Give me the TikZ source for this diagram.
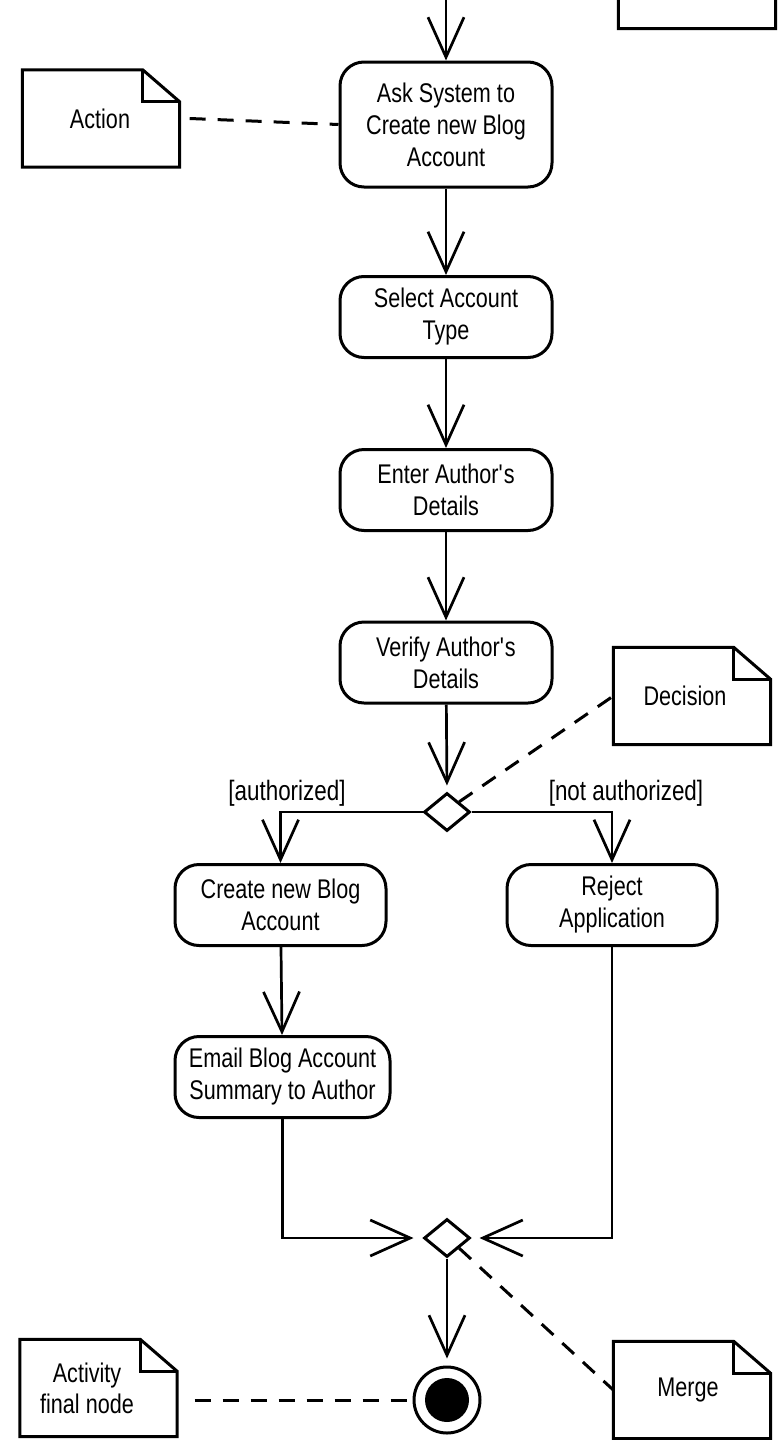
\documentclass[tikz,border=0pt]{standalone}
\usepackage{fontspec}
\setmainfont{Liberation Sans}[FakeStretch=0.8]
\usetikzlibrary{arrows.meta,shapes.geometric,calc}
% #1 node name, #2 horizontal offset of the outline from the text centre
\newcommand{\drawnote}[2]{%
  \draw[notebox] ([xshift=#2]#1.north west) -- ([xshift=#2-37pt]#1.north east) -- ([xshift=#2,yshift=-32pt]#1.north east) -- ([xshift=#2]#1.south east) -- ([xshift=#2]#1.south west) -- cycle;
  \draw[notebox] ([xshift=#2-37pt]#1.north east) |- ([xshift=#2,yshift=-32pt]#1.north east);}
\begin{document}
\begin{tikzpicture}[x=1pt,y=-1pt,
  action/.style={draw, line width=3pt, rounded corners=24pt, minimum height=81pt,
    align=center, inner sep=1pt, font=\fontsize{27}{32}\selectfont},
  note/.style={minimum width=157pt, minimum height=97pt, inner sep=0pt, align=center,
    font=\fontsize{27}{31}\selectfont},
  notebox/.style={line width=3pt, line join=miter},
  diam/.style={draw, diamond, line width=3pt, minimum width=46pt, minimum height=38pt, inner sep=0pt},
  flow/.style={line width=2.7pt, -{Straight Barb[length=40pt,width=36pt,line width=2.7pt]}},
  guard/.style={font=\fontsize{28}{32}\selectfont},
  dashline/.style={line width=3pt, dash pattern=on 16pt off 12pt}
]
\useasboundingbox (0,0) rectangle (779,1440);
\clip (0,0) rectangle (779,1440);

% action nodes
\node[action, minimum width=212pt, minimum height=125pt] (a1) at (446,124.5) {Ask System to\\Create new Blog\\Account};
\node[action, minimum width=212pt] (a2) at (446,317) {Select Account\\Type};
\node[action, minimum width=212pt] (a3) at (446,490) {Enter Author\textquotesingle s\\Details};
\node[action, minimum width=212pt] (a4) at (446,662.5) {Verify Author\textquotesingle s\\Details};
\node[diam] (dec) at (447,812) {};
\node[action, minimum width=211pt] (create) at (280.5,905) {Create new Blog\\Account};
\node[action, minimum width=210pt] (reject) at (612,905) {Reject\\Application};
\node[action, minimum width=215pt] (email) at (282.5,1077) {Email Blog Account\\Summary to Author};
\node[diam] (merge) at (447,1238) {};
\node[circle, draw, line width=3pt, minimum size=66pt, inner sep=0pt] (final) at (447,1400) {};
\node[circle, fill=black, minimum size=44pt, inner sep=0pt] (finaldot) at (447,1400) {};

% notes (text centre; outline drawn with an offset)
\node[note] (tnote) at (697,-20) {};
\drawnote{tnote}{0pt}
\node[note] (anote) at (100,118.5) {Action};
\drawnote{anote}{1pt}
\node[note] (dnote) at (685,696) {Decision};
\drawnote{dnote}{7pt}
\node[note] (mnote) at (688,1390) {Merge};
\drawnote{mnote}{4pt}
\node[note] (fnote) at (87,1388) {Activity\\final node};
\drawnote{fnote}{11.5pt}

% flows
\coordinate (start) at (446,0);
\draw[flow] (start) -- (a1.north);
\draw[flow] (a1) -- (a2);
\draw[flow] (a2) -- (a3);
\draw[flow] (a3) -- (a4);
\draw[flow, shorten >=6pt] (a4) -- (dec.north);
\draw[flow] (dec.west) -| (create.north);
\draw[flow] (dec.east) -| (reject.north);
\draw[flow] (create) -- (email);
\draw[flow, shorten >=9pt] (email.south) |- (merge.west);
\draw[flow, shorten >=8pt] (reject.south) |- (merge.east);
\draw[flow, shorten >=7pt] (merge.south) -- (final.north);

% guards
\node[guard] (gauth) at (287,793) {[authorized]};
\node[guard] (gnot) at (626,793) {[not authorized]};

% note connectors
\draw[dashline] ([xshift=11pt]anote.east) -- (a1.west);
\draw[dashline] (dec.north east) -- ([xshift=7pt]dnote.west);
\draw[dashline] (merge.south east) -- ([xshift=4pt]mnote.west);
\draw[dashline] ([xshift=29pt]fnote.east |- final.west) -- (final.west);
\end{tikzpicture}
\end{document}
